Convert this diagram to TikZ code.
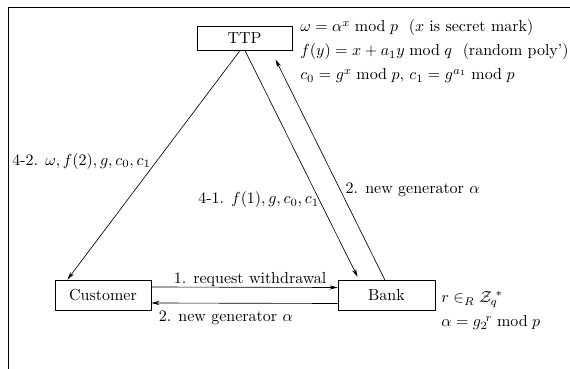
\documentclass[tikz,border=0pt]{standalone}
\usepackage{amsmath,amssymb}
\usetikzlibrary{arrows.meta}

\begin{document}
\begin{tikzpicture}[x=0.625pt, y=-0.625pt, every node/.style={font=\normalsize},
    box/.style={draw, semithick, inner sep=0pt, minimum width=60pt, minimum height=18.75pt},
    msg/.style={thin, -{Stealth[length=5pt, width=2.6pt]}}]
    \useasboundingbox (0,0) rectangle (570,369);

    % outer frame (top and left edge only)
    \draw[semithick] (570,7) -- (8,7) -- (8,369);

    % the three parties
    \node[box, minimum width=59.4pt, minimum height=14.4pt] (ttp) at (244.5,38.5) {TTP};
    \node[box] (customer) at (103,295) {Customer};
    \node[box, minimum width=60.6pt] (bank) at (386.5,295.5) {Bank};

    % notes of the TTP
    \node[anchor=base west, inner sep=0pt] (ttpnote1) at (300,32) {$\omega=\alpha^{x} \bmod p$\ \ ($x$ is secret mark)};
    \node[anchor=base west, inner sep=0pt] (ttpnote2) at (300,56) {$f(y)=x+a_1y \bmod q$\ \ (random poly')};
    \node[anchor=base west, inner sep=0pt] (ttpnote3) at (300,80) {$c_0=g^{x} \bmod p$, $c_1=g^{a_1} \bmod p$};

    % notes of the bank
    \node[anchor=base west, inner sep=0pt] (banknote1) at (441,303) {$r\in_R{\mathcal{Z}_q}^{\!*}$};
    \node[anchor=base west, inner sep=0pt] (banknote2) at (441,327) {$\alpha={g_2}^{\!r} \bmod p$};

    % TTP -> customer
    \draw[msg] ([xshift=-2.8pt]ttp.south) -- node[pos=0.485, left] (msg42) {4-2. $\omega, f(2), g, c_0, c_1$} ([xshift=8.1pt]customer.north west);

    % TTP -> bank
    \draw[msg] ([xshift=0.3pt]ttp.south) -- node[pos=0.66, anchor=east, inner sep=0pt] (msg41) {4-1. $f(1), g, c_0, c_1$} ([xshift=12.5pt, yshift=2pt]bank.north west);

    % bank -> TTP
    \draw[msg] ([xshift=-1pt]bank.north) -- node[pos=0.41, right] (msg2up) {2. new generator $\alpha$} ([xshift=-10.6pt, yshift=-5.6pt]ttp.south east);

    % customer <-> bank
    \draw[msg] ([yshift=5pt]customer.east) -- node[pos=0.53, above, inner sep=0.5pt] (msg1) {1. request withdrawal} ([yshift=5pt]bank.west);
    \draw[msg] ([yshift=-5pt]bank.west) -- node[pos=0.6, below, yshift=-1.5pt] (msg2) {2. new generator $\alpha$} ([yshift=-5pt]customer.east);
\end{tikzpicture}
\end{document}
